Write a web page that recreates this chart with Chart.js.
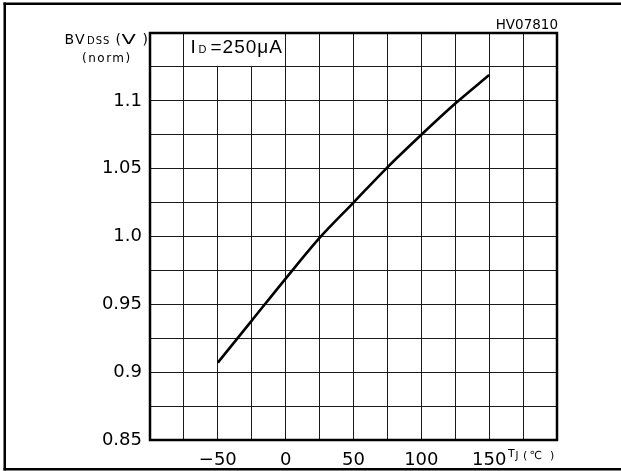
<!DOCTYPE html>
<html>
<head>
<meta charset="utf-8">
<script src="https://cdn.jsdelivr.net/npm/chart.js@4/dist/chart.umd.min.js"></script>
<style>
html,body{margin:0;padding:0;background:#fff;}
#wrap{width:621px;height:471px;}
</style>
</head>
<body>
<div id="wrap"><canvas id="c" width="621" height="471"></canvas></div>
<script>
// Data
const temperature = [-50, -25, 0, 25, 50, 75, 100, 125, 150];
const bvdssNorm   = [0.907, 0.938, 0.969, 0.999, 1.025, 1.051, 1.075, 1.098, 1.119];

// Axis grid and tick labels
const xGrid = [-100, -75, -50, -25, 0, 25, 50, 75, 100, 125, 150, 175, 200];
const xTickLabels = [-50, 0, 50, 100, 150];
const yGrid = [0.85, 0.875, 0.9, 0.925, 0.95, 0.975, 1.0, 1.025, 1.05, 1.075, 1.1, 1.125, 1.15];
const yTickValues = [0.85, 0.9, 0.95, 1.0, 1.05, 1.1];
const yTickText   = ['0.85', '0.9', '0.95', '1.0', '1.05', '1.1'];

const decor = {
  id: 'decor',
  beforeDraw(chart) {
    const c = chart.ctx;
    c.save();
    c.fillStyle = '#fff';
    c.fillRect(0, 0, chart.width, chart.height);
    c.restore();
  },
  beforeDatasetsDraw(chart) {
    // clear the grid inside the annotation cell
    const c = chart.ctx, xs = chart.scales.x, ys = chart.scales.y, a = chart.chartArea;
    const x0 = xs.getPixelForValue(-75) + 1, x1 = xs.getPixelForValue(0) - 1;
    const y0 = a.top + 1, y1 = ys.getPixelForValue(1.125) - 1;
    c.save();
    c.fillStyle = '#fff';
    c.fillRect(x0, y0, x1 - x0, y1 - y0);
    c.restore();
  },
  afterDraw(chart) {
    const c = chart.ctx, a = chart.chartArea;
    c.save();
    // plot border
    c.strokeStyle = '#000';
    c.lineWidth = 2.5;
    c.strokeRect(a.left, a.top, a.right - a.left, a.bottom - a.top);
    // outer frame (top, left, bottom)
    c.fillStyle = '#000';
    c.fillRect(3.5, 2.5, 621, 2.5);
    c.fillRect(3.5, 2.5, 2.5, 468);
    c.fillRect(3.5, 468, 621, 2.5);

    c.textAlign = 'left';
    c.textBaseline = 'alphabetic';
    // HV07810
    c.font = '13.5px "DejaVu Sans"';
    c.textAlign = 'right';
    c.fillText('HV07810', 558, 28.5);
    c.textAlign = 'left';

    // Y-axis title BVDSS(V) (norm)
    const by = 44;
    c.font = '14px "DejaVu Sans"';
    c.fillText('B', 64.5, by);
    c.fillText('V', 75, by);
    c.font = '10px "DejaVu Sans"';
    c.letterSpacing = '1px';
    c.fillText('DSS', 87, by);
    c.letterSpacing = '0px';
    c.font = '14px "DejaVu Sans"';
    c.fillText('(', 115.5, by);
    c.save();
    c.translate(121.5, by);
    c.scale(1.5, 1);
    c.fillText('V', 0, 0);
    c.restore();
    c.fillText(')', 142.5, by);
    c.font = '12px "DejaVu Sans"';
    c.letterSpacing = '1.5px';
    c.fillText('(norm)', 82, 62);
    c.letterSpacing = '0px';

    // ID=250μA annotation
    c.font = '19px "Liberation Sans"';
    c.fillText('I', 190.5, 52.5);
    c.font = '11px "Liberation Sans"';
    c.fillText('D', 198.5, 52.5);
    c.font = '19px "Liberation Sans"';
    c.letterSpacing = '1px';
    c.fillText('=250μA', 210.5, 52.5);
    c.letterSpacing = '0px';

    // X-axis title TJ(℃)
    c.font = '11px "DejaVu Sans"';
    c.fillText('T', 508, 457);
    c.font = '10px "DejaVu Sans"';
    c.fillText('J', 515.5, 458.5);
    c.font = '11px "DejaVu Sans"';
    c.fillText('(', 523, 459);
    c.fillText('℃', 529.5, 459);
    c.fillText(')', 550, 459);
    c.restore();
  }
};

new Chart(document.getElementById('c'), {
  type: 'line',
  data: {
    datasets: [{
      data: temperature.map((t, i) => ({ x: t, y: bvdssNorm[i] })),
      borderColor: '#000',
      borderWidth: 2.6,
      pointRadius: 0,
      cubicInterpolationMode: 'monotone',
      fill: false
    }]
  },
  options: {
    responsive: false,
    animation: false,
    devicePixelRatio: 1,
    layout: { padding: { left: 0, right: 64, top: 33, bottom: 0 } },
    plugins: { legend: { display: false }, tooltip: { enabled: false }, title: { display: false } },
    scales: {
      x: {
        type: 'linear',
        min: -100, max: 200,
        afterBuildTicks: s => { s.ticks = xGrid.map(v => ({ value: v })); },
        afterFit: s => { s.height = 31; },
        grid: { color: '#1a1a1a', lineWidth: 1, drawTicks: false },
        border: { display: false },
        ticks: {
          autoSkip: false, maxRotation: 0, padding: 10,
          color: '#000',
          font: { family: 'DejaVu Sans', size: 18 },
          callback: v => xTickLabels.includes(v) ? String(v).replace('-', '\u2212') : ''
        }
      },
      y: {
        type: 'linear',
        min: 0.85, max: 1.15,
        afterBuildTicks: s => { s.ticks = yGrid.map(v => ({ value: v })); },
        afterFit: s => { s.width = 150; },
        grid: { color: '#1a1a1a', lineWidth: 1, drawTicks: false },
        border: { display: false },
        ticks: {
          autoSkip: false, padding: 8,
          color: '#000',
          font: { family: 'DejaVu Sans', size: 18 },
          callback: v => {
            const i = yTickValues.findIndex(t => Math.abs(t - v) < 1e-6);
            return i >= 0 ? yTickText[i] : '';
          }
        }
      }
    }
  },
  plugins: [decor]
});
</script>
</body>
</html>
